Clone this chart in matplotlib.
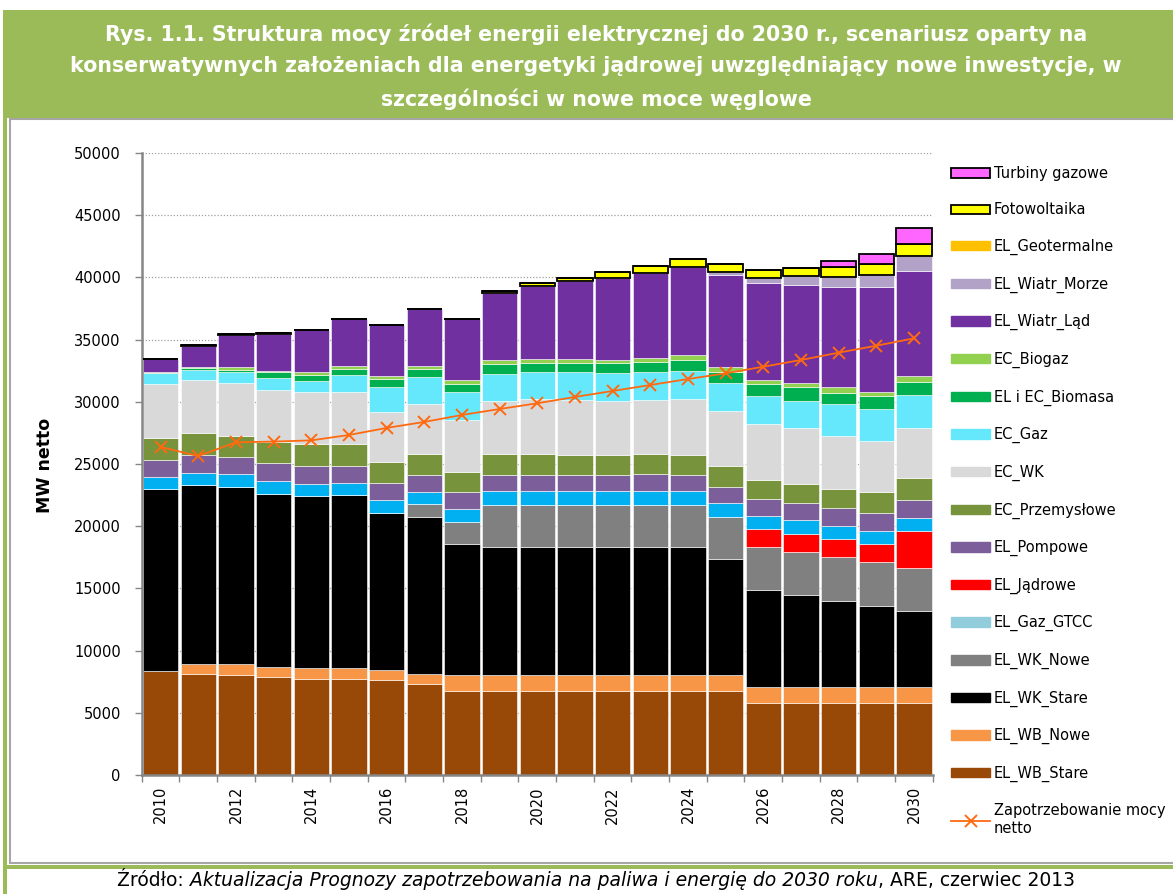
import numpy as np
import matplotlib
matplotlib.use('Agg')
import matplotlib.pyplot as plt
from matplotlib.patches import Rectangle, Patch
from matplotlib.lines import Line2D

plt.rcParams['font.family'] = ['DejaVu Sans']

# dane (MW netto)
lata = list(range(2010, 2031))

EL_WB_Stare = [8360, 8140, 8010, 7900, 7720, 7720, 7640, 7315, 6750, 6750, 6750, 6750, 6750, 6750, 6750, 6750,
               5790, 5790, 5790, 5790, 5790]
EL_WB_Nowe = [0, 750, 885, 800, 885, 885, 780, 800, 1290, 1290, 1290, 1290, 1290, 1290, 1290, 1290,
              1260, 1260, 1260, 1260, 1260]
EL_WK_Stare = [14630, 14390, 14280, 13910, 13830, 13930, 12670, 12620, 10500, 10300, 10290, 10290, 10290, 10290,
               10290, 9325, 7820, 7420, 6960, 6560, 6160]
EL_WK_Nowe = [0, 0, 0, 0, 0, 0, 0, 1020, 1770, 3400, 3400, 3400, 3400, 3400, 3400, 3400,
              3480, 3430, 3490, 3510, 3450]
EL_Gaz_GTCC = [0] * 21
EL_Jadrowe = [0] * 16 + [1420, 1500, 1450, 1450, 2930]
EL_Wodne = [990, 990, 1000, 1000, 990, 965, 1000, 965, 1070, 1070, 1070, 1070, 1070, 1070, 1070, 1075,
            1075, 1125, 1070, 1070, 1085]  # niebieski, brak w legendzie
EL_Pompowe = [1340, 1420, 1370, 1450, 1420, 1340, 1415, 1370, 1340, 1340, 1340, 1340, 1340, 1420, 1340, 1340,
              1340, 1340, 1420, 1450, 1440]
EC_Przemyslowe = [1770, 1770, 1740, 1740, 1740, 1740, 1640, 1715, 1610, 1630, 1630, 1550, 1550, 1550, 1550, 1660,
                  1560, 1530, 1550, 1640, 1740]
EC_WK = [4365, 4260, 4235, 4180, 4200, 4200, 4070, 4000, 4200, 4260, 4480, 4480, 4340, 4370, 4560, 4450,
         4500, 4470, 4290, 4100, 4000]
EC_Gaz = [836, 860, 885, 940, 910, 1340, 1960, 2220, 2230, 2230, 2115, 2200, 2250, 2225, 2220, 2250,
          2200, 2225, 2520, 2570, 2700]
Biomasa = [50, 110, 190, 460, 480, 530, 645, 645, 690, 770, 750, 720, 800, 830, 860, 860,
           965, 1070, 935, 1070, 1030]
EC_Biogaz = [80, 110, 190, 100, 215, 215, 215, 215, 270, 300, 320, 320, 320, 320, 400, 400,
             380, 350, 430, 350, 490]
Wiatr_Lad = [1000, 1710, 2620, 3000, 3380, 3780, 4130, 4560, 4930, 5410, 5900, 6270, 6570, 6830, 7100, 7420,
             7770, 7850, 8090, 8440, 8420]
Wiatr_Morze = [0] * 15 + [190, 380, 720, 800, 940, 1230]
Geotermalne = [0] * 21
Fotowoltaika = [20] * 9 + [150, 250, 300, 450, 560, 675, 640, 620, 675, 800, 885, 950]
Turbiny = [0] * 18 + [480, 800, 1290]

Zapotrzebowanie = [26370, 25640, 26740, 26800, 26900, 27330, 27900, 28380, 28940, 29420, 29880, 30390, 30870,
                   31350, 31830, 32290, 32820, 33360, 33950, 34510, 35100]

# kolejnosc od dolu slupka
warstwy = [
    ('EL_WB_Stare', EL_WB_Stare, '#984807'),
    ('EL_WB_Nowe', EL_WB_Nowe, '#F79646'),
    ('EL_WK_Stare', EL_WK_Stare, '#000000'),
    ('EL_WK_Nowe', EL_WK_Nowe, '#808080'),
    ('EL_Gaz_GTCC', EL_Gaz_GTCC, '#92CDDC'),
    ('EL_Jądrowe', EL_Jadrowe, '#FF0000'),
    (None, EL_Wodne, '#00B0F0'),
    ('EL_Pompowe', EL_Pompowe, '#7B5E9A'),
    ('EC_Przemysłowe', EC_Przemyslowe, '#77933C'),
    ('EC_WK', EC_WK, '#D9D9D9'),
    ('EC_Gaz', EC_Gaz, '#66E8FC'),
    ('EL i EC_Biomasa', Biomasa, '#00B050'),
    ('EC_Biogaz', EC_Biogaz, '#92D050'),
    ('EL_Wiatr_Ląd', Wiatr_Lad, '#7030A0'),
    ('EL_Wiatr_Morze', Wiatr_Morze, '#B3A2C7'),
    ('EL_Geotermalne', Geotermalne, '#FFC000'),
    ('Fotowoltaika', Fotowoltaika, '#FFFF00'),
    ('Turbiny gazowe', Turbiny, '#FF66FF'),
]
z_ramka = ['Fotowoltaika', 'Turbiny gazowe']

W, H = 1173, 894
fig = plt.figure(figsize=(W / 100, H / 100), dpi=100)

def fx(x):
    return x / W

def fy(y):
    return 1 - y / H

# tlo: zielony naglowek, ramka wykresu, linie
fig.patches.append(Rectangle((fx(3), fy(118)), 1, 108 / H, transform=fig.transFigure,
                             facecolor='#9BBB59', edgecolor='none', zorder=0))
fig.patches.append(Rectangle((fx(10), fy(863)), 1.2, (863 - 119) / H, transform=fig.transFigure,
                             facecolor='white', edgecolor='#A6A6A6', lw=1.5, zorder=0))
fig.patches.append(Rectangle((fx(3), 0), 4 / W, fy(10), transform=fig.transFigure,
                             facecolor='#9BBB59', edgecolor='none', zorder=1))
fig.patches.append(Rectangle((fx(3), fy(869)), 1, 4 / H, transform=fig.transFigure,
                             facecolor='#9BBB59', edgecolor='none', zorder=1))

tytul = ['Rys. 1.1. Struktura mocy źródeł energii elektrycznej do 2030 r., scenariusz oparty na',
         'konserwatywnych założeniach dla energetyki jądrowej uwzględniający nowe inwestycje, w',
         'szczególności w nowe moce węglowe']
for i, linia in enumerate(tytul):
    fig.text(fx(596), fy(34 + 32.5 * i), linia, ha='center', va='center', color='white',
             fontsize=14.8, fontweight='bold')

ax = fig.add_axes([fx(141.7), fy(775), (932.8 - 141.7) / W, (775 - 153) / H])
ax.set_zorder(3)
ax.patch.set_alpha(0)
x = np.arange(len(lata))
dol = np.zeros(len(lata))
uchwyty = []
for nazwa, wart, kolor in warstwy:
    wart = np.array(wart, dtype=float)
    if nazwa in z_ramka:
        ax.bar(x, wart, bottom=dol, width=0.94, color=kolor, edgecolor='black', linewidth=1.3, zorder=3)
        uchwyty.append(Patch(facecolor=kolor, edgecolor='black', linewidth=1.3, label=nazwa))
    else:
        ax.bar(x, wart, bottom=dol, width=0.94, color=kolor, edgecolor='white', linewidth=0.4, zorder=2)
        if nazwa:
            uchwyty.append(Patch(facecolor=kolor, edgecolor=kolor, label=nazwa))
    dol += wart

ax.plot(x, Zapotrzebowanie, color='#FF6A10', lw=1.3, marker='x', ms=8, mew=1.4, zorder=5)

ax.set_xlim(-0.5, len(lata) - 0.5)
ax.set_ylim(0, 50000)
ax.set_yticks(range(0, 50001, 5000))
ax.yaxis.grid(True, linestyle=(0, (1, 1.5)), color='#A0A0A0', lw=0.9)
ax.set_axisbelow(True)
ax.set_xticks(x[::2])
ax.set_xticklabels([str(r) for r in lata[::2]], rotation=90)
ax.set_xticks(np.arange(-0.5, len(lata), 1), minor=True)
ax.tick_params(axis='x', which='major', length=0, labelsize=10.5, pad=8)
ax.tick_params(axis='x', which='minor', length=5, color='#868686', width=1)
ax.tick_params(axis='y', length=5, color='#868686', width=1, labelsize=10.5, pad=10)
for s in ['top', 'right']:
    ax.spines[s].set_visible(False)
for s in ['left', 'bottom']:
    ax.spines[s].set_color('#868686')
    ax.spines[s].set_linewidth(1.8)

fig.text(fx(45), fy(465), 'MW netto', rotation=90, ha='center', va='center', fontsize=12.5, fontweight='bold')

# legenda od gory
uchwyty = uchwyty[::-1]
uchwyty.append(Line2D([], [], color='#FF6A10', lw=1.3, marker='x', ms=8, mew=1.4,
                      label='Zapotrzebowanie mocy\nnetto'))
fig.legend(handles=uchwyty, loc='upper left', bbox_to_anchor=(fx(951), fy(166)), frameon=False,
           fontsize=10.5, labelspacing=1.47, handlelength=2.7, handleheight=0.62, handletextpad=0.25,
           borderaxespad=0, borderpad=0)

# zrodlo, tekst mieszany (zwykly / kursywa)
czesci = [('Źródło: ', 'normal'),
          ('Aktualizacja Prognozy zapotrzebowania na paliwa i energię do 2030 roku', 'italic'),
          (', ARE, czerwiec 2013', 'normal')]
teksty = [fig.text(0, fy(881), t, style=s, fontsize=13.5, va='center') for t, s in czesci]
rend = fig.canvas.get_renderer()
szer = [t.get_window_extent(rend).width for t in teksty]
start = 596 - sum(szer) / 2
for t, w in zip(teksty, szer):
    t.set_x(fx(start))
    start += w

fig.savefig('out.png', dpi=100)
